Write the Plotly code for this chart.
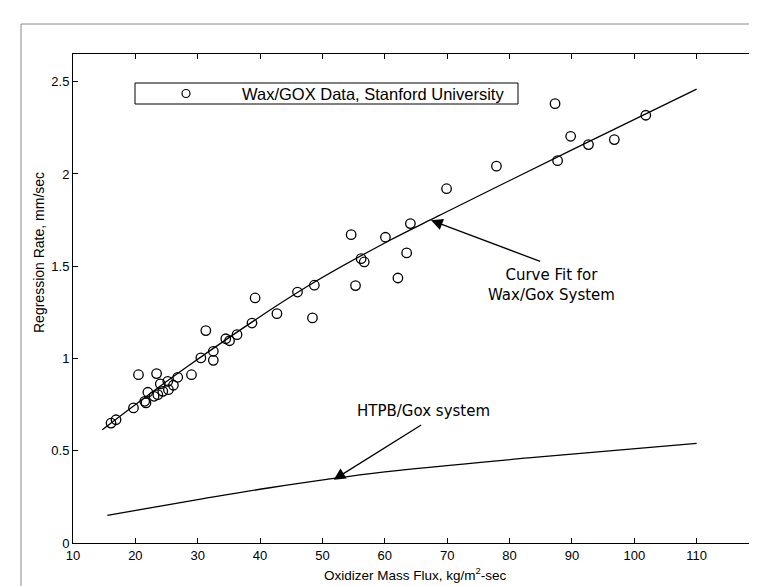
import plotly.graph_objects as go

# ---- data ----
wax_flux = [101.85, 96.8, 92.65, 89.8, 87.7, 87.3, 77.9, 69.9,
            48.7, 54.6, 60.1, 64.1, 56.2, 56.7, 63.5, 55.3, 62.1,
            39.2, 31.3, 42.7, 48.4, 38.7, 36.3, 34.5, 35.1, 32.5, 32.5, 30.5, 29.0, 46.0,
            20.5, 23.4, 26.8, 26.1, 25.2, 24.0, 25.3, 24.4, 23.6, 22.0, 21.5, 21.7, 23.0, 19.7, 16.9, 16.1]
wax_rate = [2.318, 2.186, 2.159, 2.204, 2.072, 2.381, 2.042, 1.920,
            1.397, 1.671, 1.657, 1.731, 1.541, 1.523, 1.572, 1.395, 1.436,
            1.328, 1.151, 1.243, 1.220, 1.192, 1.129, 1.107, 1.096, 1.039, 0.990, 1.003, 0.912, 1.360,
            0.912, 0.918, 0.898, 0.855, 0.876, 0.862, 0.831, 0.822, 0.804, 0.817, 0.768, 0.759, 0.795, 0.732, 0.668, 0.650]

fit_flux = [14.7, 28.4, 47.6, 60.5, 68.5, 77.6, 90, 110]
fit_rate = [0.614, 0.958, 1.391, 1.635, 1.771, 1.924, 2.13, 2.46]

htpb_flux = [15.5, 30, 41.3, 60, 83, 110]
htpb_rate = [0.15, 0.235, 0.298, 0.385, 0.461, 0.54]

x_ticks = [10, 20, 30, 40, 50, 60, 70, 80, 90, 100, 110, 120]
y_ticks = [0, 0.5, 1, 1.5, 2, 2.5]
y_tick_text = ["0", "0.5", "1", "1.5", "2", "2.5"]

legend_label = "Wax/GOX Data, Stanford University"
x_title = "Oxidizer Mass Flux, kg/m<sup>2</sup>-sec"
y_title = "Regression Rate, mm/sec"

W, H = 757, 586
L, R, T, B = 65, 6, 46, 51
XR = [10, 120]
YR = [0, 2.65]

def px2paper_x(px):
    return (px - L) / (W - L - R)

def px2paper_y(py):
    return (H - B - py) / (H - T - B)

fig = go.Figure()
fig.add_trace(go.Scatter(x=fit_flux, y=fit_rate, mode="lines", line=dict(color="black", width=1.3, shape="spline"),
                         showlegend=False, hoverinfo="skip"))
fig.add_trace(go.Scatter(x=htpb_flux, y=htpb_rate, mode="lines", line=dict(color="black", width=1.3, shape="spline"),
                         showlegend=False, hoverinfo="skip"))
fig.add_trace(go.Scatter(x=wax_flux, y=wax_rate, mode="markers", name=legend_label,
                         marker=dict(symbol="circle-open", size=9.5, color="black", line=dict(width=1.3)),
                         showlegend=False))

axis_common = dict(showline=True, linecolor="black", linewidth=1, mirror="ticks", ticks="inside",
                   ticklen=5, tickcolor="black", showgrid=False, zeroline=False,
                   tickfont=dict(family="Liberation Sans, Arial", size=13, color="black"))
fig.update_xaxes(range=XR, tickvals=x_ticks, ticklabeloverflow="allow", **axis_common)
fig.update_yaxes(range=YR, tickvals=y_ticks, ticktext=y_tick_text, **axis_common)

shapes = [
    # page border (top and left)
    dict(type="line", xref="paper", yref="paper", x0=px2paper_x(13), x1=px2paper_x(W + 5),
         y0=px2paper_y(16), y1=px2paper_y(16), line=dict(color="#888888", width=1)),
    dict(type="line", xref="paper", yref="paper", x0=px2paper_x(13), x1=px2paper_x(13),
         y0=px2paper_y(16), y1=px2paper_y(H + 5), line=dict(color="#888888", width=1)),
    # legend box
    dict(type="rect", xref="paper", yref="paper", x0=px2paper_x(127), x1=px2paper_x(510),
         y0=px2paper_y(96), y1=px2paper_y(75), line=dict(color="black", width=1), fillcolor="white"),
    # legend marker
    dict(type="circle", xref="paper", yref="paper", x0=px2paper_x(174), x1=px2paper_x(182),
         y0=px2paper_y(89.5), y1=px2paper_y(81.5), line=dict(color="black", width=1.2)),
]

ann_font = dict(family="DejaVu Sans, Verdana", size=15, color="black")
annotations = [
    dict(xref="paper", yref="paper", x=px2paper_x(232), y=px2paper_y(85.5), text=legend_label,
         showarrow=False, xanchor="left", yanchor="middle",
         font=dict(family="Liberation Sans, Arial", size=16.5, color="black")),
    dict(xref="paper", yref="paper", x=px2paper_x(407), y=px2paper_y(566), text=x_title,
         showarrow=False, xanchor="center", yanchor="middle",
         font=dict(family="Liberation Sans, Arial", size=13.5, color="black")),
    dict(xref="paper", yref="paper", x=px2paper_x(31), y=px2paper_y(245), text=y_title,
         showarrow=False, textangle=-90, xanchor="center", yanchor="middle",
         font=dict(family="Liberation Sans, Arial", size=14, color="black")),
    # Curve fit label + arrow
    dict(xref="paper", yref="paper", x=px2paper_x(543), y=px2paper_y(276.5), text="Curve Fit for<br>Wax/Gox System",
         showarrow=False, xanchor="center", yanchor="middle", align="center", font=ann_font),
    dict(x=67.4, y=1.749, text="", showarrow=True, ax=110.7, ay=41.7,
         arrowhead=2, arrowsize=1.8, arrowwidth=1.3, arrowcolor="black"),
    # HTPB label + arrow
    dict(xref="paper", yref="paper", x=px2paper_x(416), y=px2paper_y(403), text="HTPB/Gox system",
         showarrow=False, xanchor="center", yanchor="middle", font=ann_font),
    dict(x=51.8, y=0.343, text="", showarrow=True, ax=89, ay=-55.7,
         arrowhead=2, arrowsize=1.8, arrowwidth=1.3, arrowcolor="black"),
]

fig.update_layout(width=W, height=H, margin=dict(l=L, r=R, t=T, b=B, autoexpand=False),
                  plot_bgcolor="white", paper_bgcolor="white", showlegend=False,
                  shapes=shapes, annotations=annotations)

fig.write_html("out.html")
